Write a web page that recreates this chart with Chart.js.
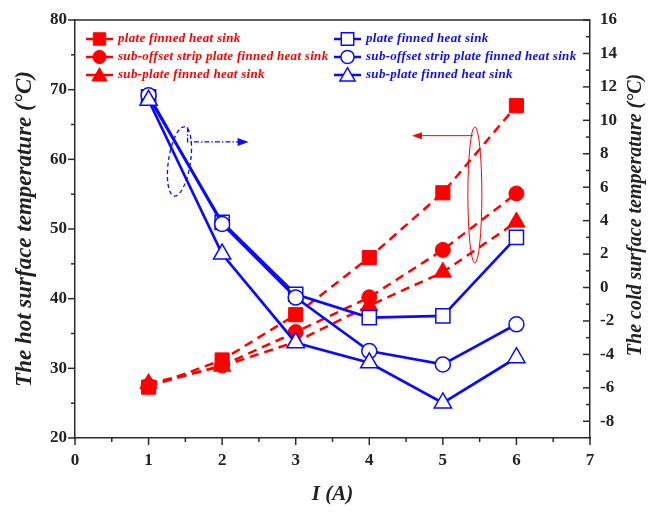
<!DOCTYPE html>
<html>
<head>
<meta charset="utf-8">
<script src="https://cdn.jsdelivr.net/npm/chart.js@4.4.1/dist/chart.umd.min.js"></script>
<style>
  body { margin: 0; background: #ffffff; }
  canvas { display: block; }
</style>
</head>
<body>
<canvas id="grafica" width="650" height="512"></canvas>
<script>
// Datos
const corriente = [1, 2, 3, 4, 5, 6];

// Temperatura de la cara caliente (eje izquierdo)
const calientePlaca = [27.3, 31.2, 37.7, 45.9, 55.2, 67.7];
const calienteOffset = [27.5, 30.4, 35.2, 40.2, 47.0, 55.1];
const calienteSub = [27.8, 30.3, 33.8, 39.0, 43.8, 51.0];

// Temperatura de la cara fría (eje derecho)
const frioPlaca = [11.4, 3.9, -0.4, -1.8, -1.7, 3.0];
const frioOffset = [11.5, 3.8, -0.6, -3.8, -4.6, -2.2];
const frioSub = [11.2, 2.0, -3.3, -4.5, -6.9, -4.2];

const nombres = ['plate finned heat sink', 'sub-offset strip plate finned heat sink', 'sub-plate finned heat sink'];
const marcadores = ['rect', 'circle', 'triangle'];
const radios = [10, 7.5, 10];

const ticksX = [0, 1, 2, 3, 4, 5, 6, 7];
const ticksCaliente = [20, 30, 40, 50, 60, 70, 80];
const ticksFrio = [-8, -6, -4, -2, 0, 2, 4, 6, 8, 10, 12, 14, 16];

const ROJO = '#ff0000';
const AZUL = '#0a0aff';
const EJE = '#2a2a2a';
const FUENTE = 'Liberation Serif';

function puntos(valores) {
    return corriente.map((x, i) => ({ x: x, y: valores[i] }));
}

function serieCaliente(valores, i) {
    return {
        label: nombres[i],
        data: puntos(valores),
        yAxisID: 'y',
        borderColor: ROJO,
        backgroundColor: ROJO,
        borderWidth: 2.5,
        borderDash: [9, 6],
        pointStyle: marcadores[i],
        pointRadius: radios[i],
        pointBorderWidth: 1,
        pointBorderColor: ROJO,
        pointBackgroundColor: ROJO,
        order: 5 - i   // el triángulo queda encima
    };
}

function serieFrio(valores, i) {
    return {
        label: nombres[i],
        data: puntos(valores),
        yAxisID: 'y2',
        borderColor: AZUL,
        backgroundColor: '#ffffff',
        borderWidth: 2.7,
        pointStyle: marcadores[i],
        pointRadius: radios[i],
        pointBorderWidth: 1.5,
        pointBorderColor: AZUL,
        pointBackgroundColor: '#ffffff',
        order: 2 - i
    };
}

// Marcas de los ejes (mayores y menores) y borde superior
const marcasEjes = {
    id: 'marcasEjes',
    afterDraw(chart) {
        const { ctx, chartArea: a, scales } = chart;
        ctx.save();
        ctx.strokeStyle = EJE;
        ctx.lineWidth = 1.5;
        ctx.beginPath();
        ctx.moveTo(a.left, a.top);
        ctx.lineTo(a.right, a.top);
        ctx.stroke();

        function raya(x1, y1, x2, y2) {
            ctx.beginPath();
            ctx.moveTo(x1, y1);
            ctx.lineTo(x2, y2);
            ctx.stroke();
        }
        function menores(lista) {
            const m = [];
            for (let i = 0; i < lista.length - 1; i++) m.push((lista[i] + lista[i + 1]) / 2);
            return m;
        }

        ticksX.forEach(v => { const p = scales.x.getPixelForValue(v); raya(p, a.bottom, p, a.bottom + 7); });
        menores(ticksX).forEach(v => { const p = scales.x.getPixelForValue(v); raya(p, a.bottom, p, a.bottom + 4); });

        ticksCaliente.forEach(v => { const p = scales.y.getPixelForValue(v); raya(a.left - 7, p, a.left, p); });
        menores(ticksCaliente).forEach(v => { const p = scales.y.getPixelForValue(v); raya(a.left - 4, p, a.left, p); });

        ticksFrio.forEach(v => { const p = scales.y2.getPixelForValue(v); raya(a.right - 7, p, a.right, p); });
        menores(ticksFrio).forEach(v => { const p = scales.y2.getPixelForValue(v); raya(a.right - 4, p, a.right, p); });

        // Título del eje derecho, girado igual que el izquierdo
        ctx.fillStyle = '#222222';
        ctx.font = 'italic bold 20px "' + FUENTE + '"';
        ctx.textAlign = 'center';
        ctx.textBaseline = 'middle';
        ctx.translate(636, (a.top + a.bottom) / 2 - 14);
        ctx.rotate(-Math.PI / 2);
        ctx.fillText('The cold surface temperature (°C)', 0, 0);
        ctx.restore();
    }
};

// Elipses y flechas que indican a qué eje pertenece cada grupo
const anotaciones = {
    id: 'anotaciones',
    afterDatasetsDraw(chart) {
        const { ctx, scales } = chart;
        const sx = scales.x, sy = scales.y;
        ctx.save();

        // grupo azul -> eje derecho
        ctx.strokeStyle = AZUL;
        ctx.fillStyle = AZUL;
        ctx.lineWidth = 1.3;
        ctx.setLineDash([4, 3]);
        ctx.beginPath();
        ctx.ellipse(sx.getPixelForValue(1.42), sy.getPixelForValue(59.7), 11, 35, 0.15, 0, Math.PI * 2);
        ctx.stroke();
        ctx.setLineDash([5, 2, 1.5, 2]);
        const ya = sy.getPixelForValue(62.5);
        ctx.beginPath();
        ctx.moveTo(sx.getPixelForValue(1.53), sy.getPixelForValue(64.6));
        ctx.lineTo(sx.getPixelForValue(1.53), ya);
        ctx.lineTo(sx.getPixelForValue(2.25), ya);
        ctx.stroke();
        ctx.setLineDash([]);
        const pa = sx.getPixelForValue(2.36);
        ctx.beginPath();
        ctx.moveTo(pa, ya);
        ctx.lineTo(pa - 11, ya - 4);
        ctx.lineTo(pa - 11, ya + 4);
        ctx.closePath();
        ctx.fill();

        // grupo rojo -> eje izquierdo
        ctx.strokeStyle = ROJO;
        ctx.fillStyle = ROJO;
        ctx.lineWidth = 1;
        ctx.beginPath();
        ctx.ellipse(sx.getPixelForValue(5.435), sy.getPixelForValue(54.9), 7, 68, 0, 0, Math.PI * 2);
        ctx.stroke();
        const yr = sy.getPixelForValue(63.4);
        ctx.beginPath();
        ctx.moveTo(sx.getPixelForValue(5.41), yr);
        ctx.lineTo(sx.getPixelForValue(4.68), yr);
        ctx.stroke();
        const pr = sx.getPixelForValue(4.58);
        ctx.beginPath();
        ctx.moveTo(pr, yr);
        ctx.lineTo(pr + 10, yr - 3.5);
        ctx.lineTo(pr + 10, yr + 3.5);
        ctx.closePath();
        ctx.fill();
        ctx.restore();
    }
};

// Leyenda en dos columnas dentro del área del gráfico
const leyenda = {
    id: 'leyenda',
    afterDraw(chart) {
        const ctx = chart.ctx;
        ctx.save();
        const series = chart.data.datasets;
        series.forEach((ds, i) => {
            const col = i < 3 ? 0 : 1;
            const fila = i % 3;
            const x0 = col === 0 ? 86 : 334;
            const y = 39 + fila * 18;
            ctx.strokeStyle = ds.borderColor;
            ctx.lineWidth = 2.5;
            ctx.setLineDash([]);
            ctx.beginPath();
            ctx.moveTo(x0, y);
            ctx.lineTo(x0 + 27, y);
            ctx.stroke();
            ctx.fillStyle = ds.pointBackgroundColor;
            ctx.lineWidth = ds.pointBorderWidth;
            Chart.helpers.drawPoint(ctx, {
                pointStyle: ds.pointStyle,
                radius: ds.pointRadius * 0.88,
                borderWidth: ds.pointBorderWidth,
                rotation: 0
            }, x0 + 13.5, y + (ds.pointStyle === 'triangle' ? 1.5 : 0));
            ctx.fillStyle = ds.borderColor;
            ctx.font = 'italic bold 13px "' + FUENTE + '"';
            ctx.letterSpacing = '0.3px';
            ctx.textAlign = 'left';
            ctx.textBaseline = 'middle';
            ctx.fillText(ds.label, x0 + 32, y);
            ctx.letterSpacing = '0px';
        });
        ctx.restore();
    }
};

const fuenteTicks = { family: FUENTE, size: 17, weight: 'bold' };
const fuenteTitulo = { family: FUENTE, size: 23, weight: 'bold', style: 'italic' };

function fijarTicks(lista) {
    return function (eje) {
        eje.ticks = lista.map(v => ({ value: v }));
    };
}

let grafica;
function inicializarGrafica() {
    const ctx = document.getElementById('grafica').getContext('2d');
    grafica = new Chart(ctx, {
        type: 'line',
        data: {
            datasets: [
                serieCaliente(calientePlaca, 0),
                serieCaliente(calienteOffset, 1),
                serieCaliente(calienteSub, 2),
                serieFrio(frioPlaca, 0),
                serieFrio(frioOffset, 1),
                serieFrio(frioSub, 2)
            ]
        },
        options: {
            responsive: false,
            animation: false,
            devicePixelRatio: 1,
            layout: { padding: { top: 20, left: 0, right: 0, bottom: 0 } },
            plugins: {
                legend: { display: false },
                tooltip: { enabled: false }
            },
            scales: {
                x: {
                    type: 'linear',
                    min: 0,
                    max: 7,
                    afterBuildTicks: fijarTicks(ticksX),
                    afterFit: s => { s.height = 74; },
                    grid: { display: true, drawOnChartArea: false, tickLength: 7, tickColor: 'rgba(0,0,0,0)' },
                    border: { color: EJE, width: 1.5 },
                    ticks: { font: fuenteTicks, color: '#222222', padding: 5, maxRotation: 0 },
                    title: { display: true, text: 'I (A)', font: { family: FUENTE, size: 21, weight: 'bold', style: 'italic' }, color: '#222222', padding: { top: 0, bottom: 5 } }
                },
                y: {
                    type: 'linear',
                    position: 'left',
                    min: 20,
                    max: 80,
                    afterBuildTicks: fijarTicks(ticksCaliente),
                    afterFit: s => { s.width = 75; },
                    grid: { display: true, drawOnChartArea: false, tickLength: 7, tickColor: 'rgba(0,0,0,0)' },
                    border: { color: EJE, width: 1.5 },
                    ticks: { font: fuenteTicks, color: '#222222', padding: 1 },
                    title: { display: true, text: 'The hot surface temperature (°C)', font: fuenteTitulo, color: '#222222', padding: { top: 11, bottom: 0 } }
                },
                y2: {
                    type: 'linear',
                    position: 'right',
                    min: -9,
                    max: 16,
                    afterBuildTicks: fijarTicks(ticksFrio),
                    afterFit: s => { s.width = 60; },
                    grid: { display: true, drawOnChartArea: false, tickLength: 7, tickColor: 'rgba(0,0,0,0)' },
                    border: { color: EJE, width: 1.5 },
                    ticks: { font: fuenteTicks, color: '#222222', padding: 3 }
                }
            }
        },
        plugins: [anotaciones, marcasEjes, leyenda]
    });
}

inicializarGrafica();
</script>
</body>
</html>
